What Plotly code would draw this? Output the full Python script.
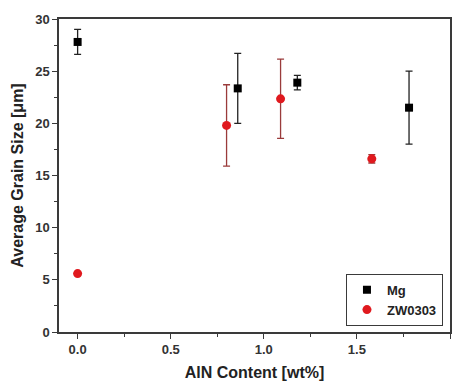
import plotly.graph_objects as go

mg_x = [0.0, 0.86, 1.18, 1.78]
mg_y = [27.8, 23.35, 23.9, 21.5]
mg_err = [1.2, 3.35, 0.7, 3.5]

zw_x = [0.0, 0.80, 1.09, 1.58]
zw_y = [5.6, 19.8, 22.35, 16.6]
zw_err = [0.0, 3.9, 3.8, 0.4]

font_family = "Liberation Sans, Arial, sans-serif"

fig = go.Figure()
fig.add_trace(go.Scatter(
    x=mg_x, y=mg_y, mode="markers", name="Mg",
    marker=dict(symbol="square", size=8, color="black"),
    error_y=dict(type="data", array=mg_err, visible=True, color="#222222", thickness=1.3, width=3.5),
))
fig.add_trace(go.Scatter(
    x=zw_x, y=zw_y, mode="markers", name="ZW0303",
    marker=dict(symbol="circle", size=9, color="#E0191E"),
    error_y=dict(type="data", array=zw_err, visible=True, color="#9A3B3B", thickness=1.3, width=3.5),
))

axis_common = dict(
    showline=True, linecolor="#3a3a3a", linewidth=1.5, mirror=True,
    ticks="outside", ticklen=5, tickwidth=1.2, tickcolor="#3a3a3a",
    showgrid=False, zeroline=False, automargin=False,
    tickfont=dict(family=font_family, size=13, color="#333333", weight="bold"),
)

fig.update_xaxes(
    range=[-0.1, 2.0], tickvals=[0.0, 0.5, 1.0, 1.5, 2.0], ticktext=["0.0", "0.5", "1.0", "1.5", "2.0"],
    minor=dict(tickvals=[0.25, 0.75, 1.25, 1.75], ticks="outside", ticklen=3, tickcolor="#3a3a3a"),
    title=dict(text="AlN Content [wt%]", font=dict(family=font_family, size=16, color="#222222", weight="bold"), standoff=10),
    **axis_common,
)
fig.update_yaxes(
    range=[0, 30], tickvals=[0, 5, 10, 15, 20, 25, 30],
    minor=dict(tickvals=[2.5, 7.5, 12.5, 17.5, 22.5, 27.5], ticks="outside", ticklen=3, tickcolor="#3a3a3a"),
    title=dict(text="Average Grain Size [μm]", font=dict(family=font_family, size=16, color="#222222", weight="bold"), standoff=8),
    **axis_common,
)

fig.update_layout(
    width=458, height=386,
    margin=dict(l=59, r=8, t=19, b=54),
    plot_bgcolor="white", paper_bgcolor="white",
    showlegend=True,
    legend=dict(
        x=0.982, y=0.02, xanchor="right", yanchor="bottom",
        bordercolor="#3a3a3a", borderwidth=1, bgcolor="white",
        font=dict(family=font_family, size=13, color="#222222", weight="bold"),
        itemwidth=30, tracegroupgap=0,
    ),
)

fig.write_html("out.html")
